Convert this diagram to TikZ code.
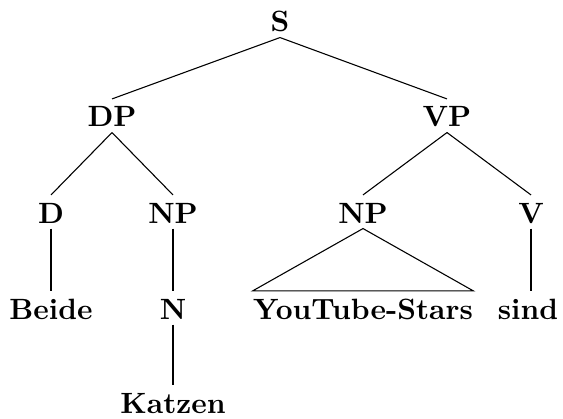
\documentclass[tikz,border=0pt]{standalone}
\begin{document}
\begin{tikzpicture}[x=0.3509pt,y=-0.3509pt,
  lab/.style={anchor=base,inner xsep=0pt,inner ysep=0pt,text height=9.65pt,text depth=1.75pt,font=\fontsize{10.3pt}{12pt}\selectfont\bfseries},
  edge/.style={line width=0.38pt}]
\useasboundingbox (0,0) rectangle (563,418);
\node[lab] (S) at (280,32) {S};
\node[lab] (DP) at (112,127) {DP};
\node[lab] (VP) at (447,127) {VP};
\node[lab] (D) at (51,223) {D};
\node[lab] (NPa) at (173,223) {NP};
\node[lab] (NPb) at (363,223) {NP};
\node[lab] (V) at (531,223) {V};
\node[lab] (Beide) at (51,319) {Beide};
\node[lab] (N) at (173,319) {N};
\node[lab] (YT) at (363,319) {YouTube-Stars};
\node[lab] (sind) at (528,319) {sind};
\node[lab] (Katzen) at (173,413) {Katzen};
\draw[edge] (S.south) -- (DP.north);
\draw[edge] (S.south) -- (VP.north);
\draw[edge] (DP.south) -- (D.north);
\draw[edge] (DP.south) -- (NPa.north);
\draw[edge] (VP.south) -- (NPb.north);
\draw[edge] (VP.south) -- (V.north);
\draw[edge] (D.south) -- (Beide.north);
\draw[edge] (NPa.south) -- (N.north);
\draw[edge] (N.south) -- (Katzen.north);
\draw[edge] (V.south) -- (sind.north -| V.south);
\draw[edge] (NPb.south) -- (YT.north west) -- (YT.north east) -- cycle;
\end{tikzpicture}
\end{document}
